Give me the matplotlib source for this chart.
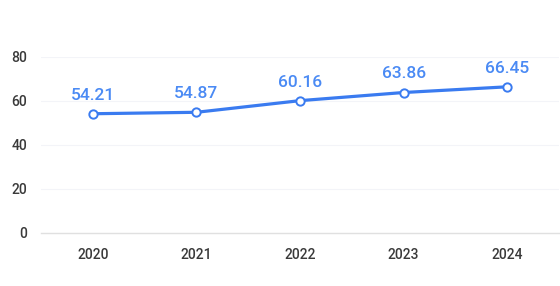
import matplotlib
matplotlib.use("Agg")
import matplotlib.pyplot as plt

years = ["2020", "2021", "2022", "2023", "2024"]
values = [54.21, 54.87, 60.16, 63.86, 66.45]
y_ticks = [0, 20, 40, 60, 80]

plt.rcParams['font.family'] = ['Roboto', 'DejaVu Sans']
plt.rcParams['font.weight'] = 'medium'

fig = plt.figure(figsize=(5.6, 2.86), dpi=100)
ax = fig.add_axes([41 / 560, 1 - 233 / 286, 518 / 560, 176 / 286])

x = list(range(len(years)))
ax.plot(x, values, color="#3a7bf0", linewidth=2.3, marker="o", markersize=6,
        markerfacecolor="white", markeredgecolor="#3a7bf0", markeredgewidth=1.4,
        zorder=3, clip_on=False)

for xi, v in zip(x, values):
    ax.annotate(f"{v:.2f}", (xi, v), xytext=(0, 8), textcoords="offset points",
                ha="center", va="bottom", color="#4a8af4", fontsize=12.5,
                fontweight="medium")

ax.set_xlim(-0.5, len(years) - 0.5)
ax.set_ylim(0, 80)
ax.set_xticks(x)
ax.set_xticklabels(years)
ax.set_yticks(y_ticks)

for t in y_ticks[1:]:
    ax.axhline(t, color="#f3f4f8", linewidth=0.8, zorder=0)

for side in ["top", "right", "left"]:
    ax.spines[side].set_visible(False)
ax.spines["bottom"].set_color("#e0e0e0")
ax.spines["bottom"].set_linewidth(1)

ax.tick_params(axis="both", length=0, labelsize=10, colors="#3a3a3a")
ax.tick_params(axis="x", pad=11)
ax.tick_params(axis="y", pad=10)

fig.savefig("out.png", dpi=100)
